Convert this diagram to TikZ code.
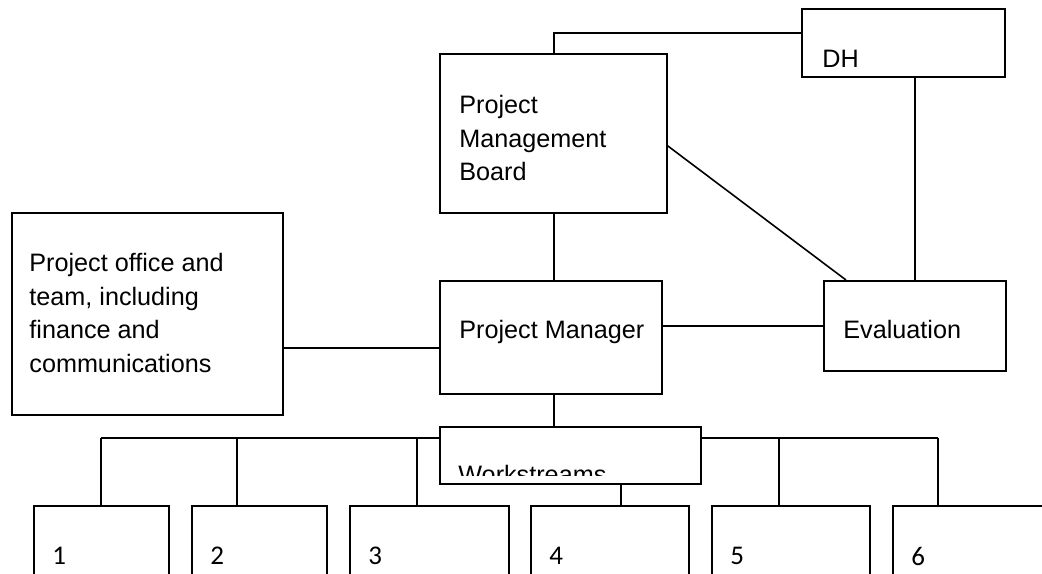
\documentclass[tikz,border=0pt]{standalone}
\usepackage{fontspec}
\setmainfont{Liberation Sans}
\newfontfamily\digitfont{Carlito}
\begin{document}
\begin{tikzpicture}[x=0.5pt, y=-0.5pt,
  box/.style 2 args={draw, line width=.8pt, fill=white, anchor=north west, inner sep=0pt,
    minimum width=#1*0.5pt, minimum height=#2*0.5pt},
  lab/.style={anchor=north west, inner sep=0pt, align=left, font=\fontsize{12.6}{16.75}\selectfont},
  num/.style={anchor=north west, inner sep=0pt, font=\digitfont\fontsize{13.5}{15}\selectfont},
  wire/.style={line width=.8pt}]
\useasboundingbox (0,0) rectangle (1042,573);
\clip (0,0) rectangle (1042,573);
% boxes
\node[box={227}{159}, label={[lab, xshift=10pt, yshift=-21pt]north west:{Project\\Management\\Board}}] (pmb) at (439,53) {};
\node[box={203}{68}, label={[lab, xshift=10.5pt, yshift=-21pt]north west:DH}] (dh) at (801,8) {};
\node[box={271}{202}, label={[lab, xshift=9pt, yshift=-20.5pt]north west:{Project office and\\team, including\\finance and\\communications}}] (office) at (11,212) {};
\node[box={222}{113}, label={[lab, xshift=10pt, yshift=-20pt]north west:Project Manager}] (pm) at (439,280) {};
\node[box={182}{90}, label={[lab, xshift=10pt, yshift=-20pt]north west:Evaluation}] (eval) at (823,280) {};
\node[box={261}{57}] (ws) at (439,426) {};
\begin{scope}
  \clip (ws.north west) rectangle ([yshift=4.5pt]ws.south east);
  \node[lab] (wslabel) at ([xshift=9.5pt, yshift=-19.5pt]ws.north west) {Workstreams};
\end{scope}
\foreach \n/\x/\w in {1/33/135, 2/191/135, 3/349/159, 4/530/158, 5/711/158, 6/892/170}
  \node[box={\w}{95}, label={[num, xshift=9.5pt, yshift=-21pt]north west:\n}] (w\n) at (\x,505) {};
% links
\draw[wire] ([xshift=.25pt]pmb.north) |- ([yshift=5pt]dh.west);
\draw[wire] ([xshift=5.75pt]dh.south) coordinate (t) -- (t |- eval.north);
\draw[wire] ([yshift=-6.25pt]pmb.east) -- ([xshift=11.5pt]eval.north west);
\draw[wire] ([xshift=.25pt]pmb.south) coordinate (t) -- (t |- pm.north);
\draw[wire] ([yshift=-5.25pt]pm.west) coordinate (t) -- (t -| office.east);
\draw[wire] (eval.west) -- (eval.west -| pm.east);
\draw[wire] ([xshift=.25pt]pmb.south |- pm.south) coordinate (t) -- (t |- ws.north);
% workstream bus
\coordinate (busL) at (101,438);
\coordinate (busR) at (938,438);
\draw[wire] (busL) -- (busL -| ws.west);
\draw[wire] (busR -| ws.east) -- (busR);
\foreach \n/\dx in {1/68, 2/46, 3/68, 5/68, 6/46}
  \draw[wire] ([xshift=\dx*0.5pt]w\n.north west) coordinate (t) -- (t |- busL);
\draw[wire] ([xshift=45.5pt]w4.north west) coordinate (t) -- (t |- ws.south);
\end{tikzpicture}
\end{document}
